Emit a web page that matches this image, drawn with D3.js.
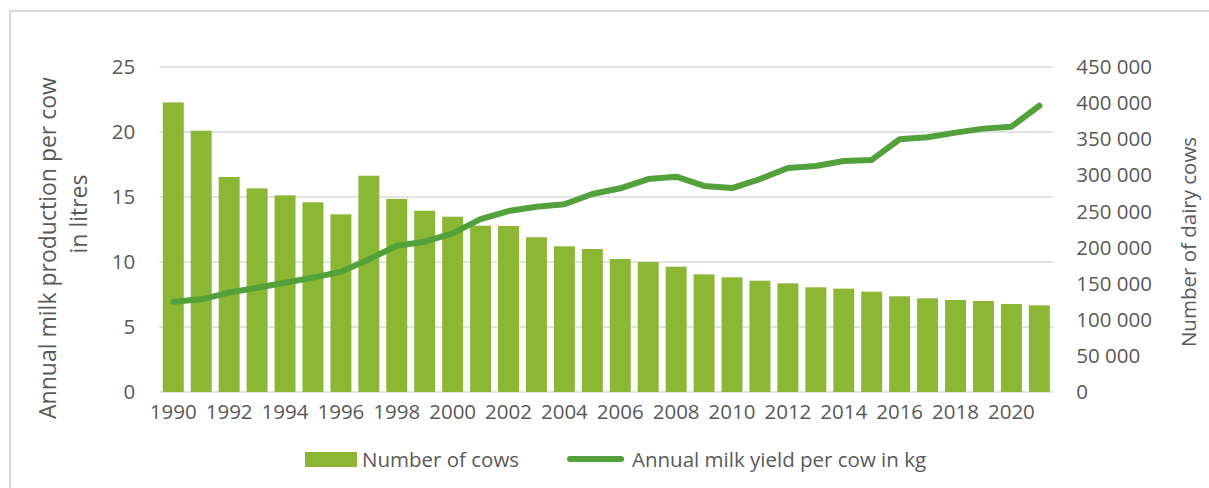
<!DOCTYPE html>
<html>
<head>
<meta charset="utf-8">
<script src="https://cdn.jsdelivr.net/npm/d3@7"></script>
<style>
  body { margin: 0; background: #fff; }
  svg text { font-family: "Open Sans", sans-serif; fill: #595959; }
</style>
</head>
<body>
<svg width="1209" height="488"></svg>
<script>
const years = d3.range(1990, 2022);
const cows = [401000, 361800, 297700, 282000, 272300, 262700, 246000, 299500,
              267300, 251000, 242700, 230300, 229900, 214200, 201700, 198000,
              184200, 180000, 173500, 162900, 158800, 154100, 150500, 145000,
              143100, 138900, 132500, 129700, 127400, 126000, 121800, 120000];
const milkYield = [6950, 7130, 7650, 8020, 8400, 8800, 9250, 10200,
                   11250, 11560, 12200, 13300, 13920, 14250, 14440, 15230,
                   15670, 16380, 16560, 15850, 15690, 16380, 17230, 17380,
                   17770, 17850, 19440, 19590, 19950, 20260, 20410, 22020];
const leftTicks = [0, 5000, 10000, 15000, 20000, 25000];
const rightTicks = [0, 50000, 100000, 150000, 200000, 250000, 300000, 350000, 400000, 450000];
const xTickYears = years.filter(y => y % 2 === 0);

function drawTheGraph(){
  const svg = d3.select("svg");
  const left = 159.3, right = 1053.3, top = 67, bottom = 392;
  const barColor = "#8bb735", lineColor = "#53a13b", gridColor = "#d9d9d9";

  // outer frame (runs off the picture on the right and bottom)
  svg.append("rect")
     .attr("x", 10).attr("y", 11)
     .attr("width", 1220).attr("height", 500)
     .attr("fill", "none")
     .attr("stroke", gridColor)
     .attr("stroke-width", 2);

  const x = d3.scaleBand()
              .domain(years)
              .range([left, right])
              .paddingInner(0.25)
              .paddingOuter(0.125);
  const yL = d3.scaleLinear().domain([0, 25000]).range([bottom, top]);
  const yR = d3.scaleLinear().domain([0, 450000]).range([bottom, top]);

  // gridlines
  svg.append("g")
     .selectAll("line")
     .data(leftTicks)
     .enter().append("line")
     .attr("x1", left).attr("x2", right)
     .attr("y1", d => yL(d)).attr("y2", d => yL(d))
     .attr("stroke", gridColor)
     .attr("stroke-width", 1.5);

  // bars
  svg.append("g")
     .selectAll("rect")
     .data(years)
     .enter().append("rect")
     .attr("x", d => x(d))
     .attr("y", (d, i) => yR(cows[i]))
     .attr("width", x.bandwidth())
     .attr("height", (d, i) => bottom - yR(cows[i]))
     .attr("fill", barColor);

  // line
  const line = d3.line()
                 .x((d, i) => x(years[i]) + x.bandwidth() / 2)
                 .y(d => yL(d));
  svg.append("path")
     .datum(milkYield)
     .attr("d", line)
     .attr("fill", "none")
     .attr("stroke", lineColor)
     .attr("stroke-width", 6)
     .attr("stroke-linejoin", "round")
     .attr("stroke-linecap", "round");

  // axes
  const axL = svg.append("g")
     .attr("transform", `translate(${left},0)`)
     .call(d3.axisLeft(yL).tickValues(leftTicks).tickFormat(d => d / 1000).tickSize(0).tickPadding(24));
  const axR = svg.append("g")
     .attr("transform", `translate(${right},0)`)
     .call(d3.axisRight(yR).tickValues(rightTicks)
             .tickFormat(d => d3.format(",")(d).replace(/,/g, " ")).tickSize(0).tickPadding(23));
  const axX = svg.append("g")
     .attr("transform", `translate(0,${bottom})`)
     .call(d3.axisBottom(x).tickValues(xTickYears).tickSize(0).tickPadding(12));
  [axL, axR, axX].forEach(a => {
    a.select(".domain").remove();
    a.selectAll("text").style("font-size", "20.5px").attr("fill", "#595959");
  });

  // axis titles
  svg.append("text")
     .attr("transform", "translate(56,248) rotate(-90)")
     .attr("text-anchor", "middle")
     .style("font-size", "23px")
     .text("Annual milk production per cow");
  svg.append("text")
     .attr("transform", "translate(87,214) rotate(-90)")
     .attr("text-anchor", "middle")
     .style("font-size", "23px")
     .text("in litres");
  svg.append("text")
     .attr("transform", "translate(1196,242) rotate(-90)")
     .attr("text-anchor", "middle")
     .style("font-size", "20.5px")
     .text("Number of dairy cows");

  // legend
  const legend = svg.append("g");
  legend.append("rect")
        .attr("x", 305).attr("y", 452)
        .attr("width", 52).attr("height", 15)
        .attr("fill", barColor);
  legend.append("text")
        .attr("x", 362).attr("y", 467)
        .style("font-size", "20.5px")
        .text("Number of cows");
  legend.append("line")
        .attr("x1", 570).attr("x2", 621)
        .attr("y1", 459).attr("y2", 459)
        .attr("stroke", lineColor)
        .attr("stroke-width", 6)
        .attr("stroke-linecap", "round");
  legend.append("text")
        .attr("x", 632).attr("y", 467)
        .style("font-size", "20.5px")
        .text("Annual milk yield per cow in kg");
}
drawTheGraph();
</script>
</body>
</html>
